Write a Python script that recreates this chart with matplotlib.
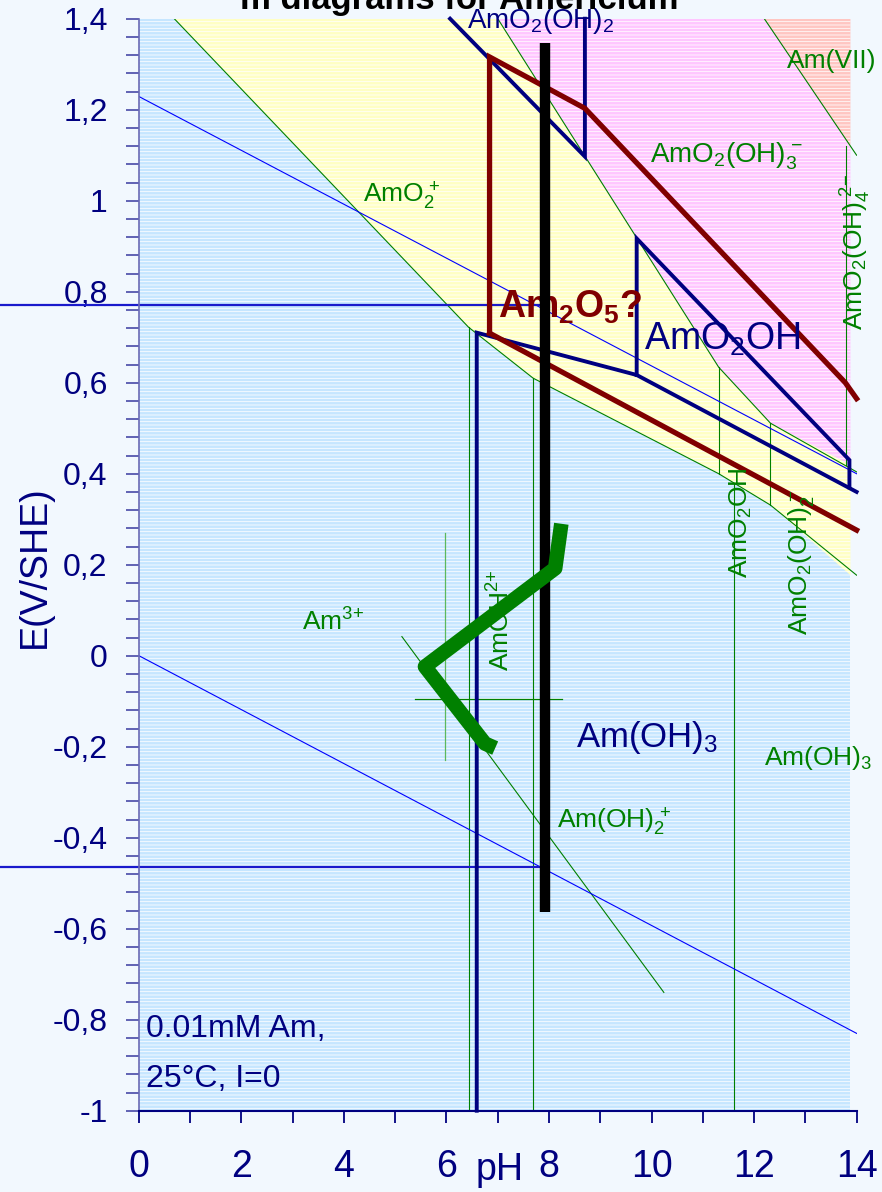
import numpy as np
import matplotlib
matplotlib.use("Agg")
from matplotlib import pyplot as plt

plt.rcParams["font.family"] = ["Liberation Sans", "DejaVu Sans"]
plt.rcParams["mathtext.fontset"] = "custom"
plt.rcParams["mathtext.rm"] = "Liberation Sans"
plt.rcParams["mathtext.it"] = "Liberation Sans:italic"
plt.rcParams["mathtext.bf"] = "Liberation Sans:bold"
plt.rcParams["hatch.linewidth"] = 0.55

# Region boundaries (pH, E in V/SHE).
am3_bound_ph = [0.69, 6.43, 7.69, 11.31, 12.32, 13.88]
am3_bound_e = [1.40, 0.722, 0.61, 0.40, 0.331, 0.177]
amo2_bound_ph = [7.0, 11.31, 12.32, 13.88]
amo2_bound_e = [1.40, 0.634, 0.511, 0.42]
am7_bound_ph = [12.2, 13.88]
am7_bound_e = [1.40, 1.12]

# Thin green boundary lines.
green_lines = [
    ([0.69, 6.43, 7.69, 11.31, 12.32, 14.0], [1.40, 0.722, 0.61, 0.40, 0.331, 0.177]),
    ([7.0, 11.31, 12.32, 14.0], [1.40, 0.634, 0.511, 0.404]),
    ([12.2, 14.0], [1.40, 1.10]),
    ([6.43, 6.43], [0.722, -1.0]),
    ([7.69, 7.69], [0.61, -1.0]),
    ([11.31, 11.31], [0.634, 0.40]),
    ([11.60, 11.60], [0.38, -1.0]),
    ([12.32, 12.32], [0.511, 0.331]),
    ([13.80, 13.80], [1.12, 0.42]),
    ([5.13, 10.24], [0.042, -0.74]),
]
cross_v_ph, cross_v_e = [5.97, 5.97], [0.27, -0.23]
cross_h_ph, cross_h_e = [5.39, 8.25], [-0.096, -0.096]

# Water stability lines.
water_ph = [0, 14]
o2_e = [1.229, 0.40]
h2_e = [0.0, -0.83]

# Thick navy / maroon phase boundaries.
navy_lines = [
    ([6.07, 8.70, 8.70], [1.40, 1.097, 1.40]),
    ([6.59, 6.59, 9.71, 14.0], [-1.0, 0.71, 0.617, 0.36]),
    ([9.71, 9.71, 13.86, 13.86], [0.617, 0.917, 0.43, 0.37]),
]
maroon_lines = [
    ([6.84, 6.84, 8.70, 13.78, 14.0], [0.709, 1.316, 1.203, 0.60, 0.565]),
    ([6.84, 14.0], [0.709, 0.276]),
]
black_ph, black_e = [7.92, 7.92], [-0.563, 1.346]
curve_ph = [8.24, 8.12, 5.58, 6.75, 6.95]
curve_e = [0.29, 0.192, -0.024, -0.193, -0.203]
hline_e = [0.77, -0.464]

yticks = [1.4, 1.2, 1.0, 0.8, 0.6, 0.4, 0.2, 0.0, -0.2, -0.4, -0.6, -0.8, -1.0]
ytick_labels = ["1,4", "1,2", "1", "0,8", "0,6", "0,4", "0,2", "0",
                "-0,2", "-0,4", "-0,6", "-0,8", "-1"]
xticks = [0, 2, 4, 6, 8, 10, 12, 14]
xtick_labels = ["0", "2", "4", "6", "8", "10", "12", "14"]

NAVY = "#000080"
MAROON = "#800000"
GREEN = "#008000"

fig = plt.figure(figsize=(8.82, 11.92), dpi=100)
fig.patch.set_facecolor("#f2f8fe")
ax = fig.add_axes([0.1575, 0.0682, 0.8137, 0.9161])
ax.set_facecolor("none")
ax.set_xlim(0, 14)
ax.set_ylim(-1, 1.4)

hatch = "-----"
# Base Am(III) region.
ax.fill([0, 13.88, 13.88, 0], [-1, -1, 1.4, 1.4], facecolor="#c6e6ff",
        edgecolor="white", lw=0, hatch=hatch, zorder=0)
# AmO2+ region.
ax.fill(am3_bound_ph + [13.88] + amo2_bound_ph[::-1],
        am3_bound_e + [0.42] + amo2_bound_e[::-1],
        facecolor="#ffffc4", edgecolor="white", lw=0, hatch=hatch, zorder=0.5)
# AmO2(OH)2 / AmO2(OH)3- region.
ax.fill(amo2_bound_ph + [13.88] + am7_bound_ph[::-1],
        amo2_bound_e + [1.12] + am7_bound_e[::-1],
        facecolor="#ffc6ff", edgecolor="white", lw=0, hatch=hatch, zorder=0.5)
# Am(VII) region.
ax.fill(am7_bound_ph + [13.88], am7_bound_e + [1.40],
        facecolor="#ffc6c2", edgecolor="white", lw=0, hatch=hatch, zorder=0.5)

for ph, e in green_lines:
    ax.plot(ph, e, color=GREEN, lw=0.8, zorder=2)
ax.plot(cross_v_ph, cross_v_e, color="#5cb85c", lw=0.9, zorder=2)
ax.plot(cross_h_ph, cross_h_e, color=GREEN, lw=0.9, zorder=2)

ax.plot(water_ph, o2_e, color="#0000ff", lw=0.8, zorder=2)
ax.plot(water_ph, h2_e, color="#0000ff", lw=0.8, zorder=2)

for ph, e in navy_lines:
    ax.plot(ph, e, color=NAVY, lw=2.8, zorder=3, clip_on=False,
            solid_joinstyle="miter")
for ph, e in maroon_lines:
    ax.plot(ph, e, color=MAROON, lw=3.8, zorder=3, clip_on=False,
            solid_joinstyle="miter")

# Horizontal guide lines starting at the left edge of the figure.
fig.canvas.draw()
x_left = ax.transData.inverted().transform(fig.transFigure.transform((0, 0)))[0]
for e in hline_e:
    ax.plot([x_left, black_ph[0]], [e, e], color="#1a1acc", lw=1.6,
            zorder=2.5, clip_on=False)

# Labels.
txt = dict(zorder=3.5, va="baseline", ha="left")
ax.text(6.40, 1.380, r"$\mathregular{AmO_2(OH)_2}$", color=NAVY, fontsize=20, **txt)
ax.text(12.64, 1.292, "Am(VII)", color=GREEN, fontsize=19, **txt)
ax.text(9.97, 1.085, r"$\mathregular{AmO_2(OH)_3^{\ {-}}}$", color=GREEN, fontsize=20, **txt)
ax.text(4.37, 0.995, r"$\mathregular{AmO_2^{\ {+}}}$", color=GREEN, fontsize=19, **txt)
ax.text(7.0, 0.742, r"$\mathregular{Am_2O_5?}$", color=MAROON, fontsize=27,
        fontweight="bold", **txt)
ax.text(9.86, 0.672, r"$\mathregular{AmO_2OH}$", color=NAVY, fontsize=27, **txt)
ax.text(3.18, 0.056, r"$\mathregular{Am^{3{+}}}$", color=GREEN, fontsize=19, **txt)
ax.text(8.53, -0.201, r"$\mathregular{Am(OH)_3}$", color=NAVY, fontsize=25, **txt)
ax.text(12.2, -0.240, r"$\mathregular{Am(OH)_3}$", color=GREEN, fontsize=19, **txt)
ax.text(8.16, -0.379, r"$\mathregular{Am(OH)_2^{\ {+}}}$", color=GREEN, fontsize=19, **txt)
ax.text(0.14, -0.838, "0.01mM Am,", color=NAVY, fontsize=23, **txt)
ax.text(0.14, -0.948, "25°C, I=0", color=NAVY, fontsize=23, **txt)

rot = dict(rotation=90, ha="center", va="center", color=GREEN, fontsize=19, zorder=3.5)
ax.text(7.07, 0.078, r"$\mathregular{AmOH^{2{+}}}$", **rot)
ax.text(11.75, 0.293, r"$\mathregular{AmO_2OH}$", **rot)
ax.text(12.92, 0.205, r"$\mathregular{AmO_2(OH)_2^{\ {-}}}$", **rot)
ax.text(13.98, 0.887, r"$\mathregular{AmO_2(OH)_4^{\ 2{-}}}$", clip_on=False, **rot)

ax.plot(black_ph, black_e, color="black", lw=7.5, zorder=4, solid_capstyle="butt")
ax.plot(curve_ph, curve_e, color=GREEN, lw=10.5, zorder=5,
        solid_capstyle="butt", solid_joinstyle="round")

# Axes styling.
for side in ["top", "right"]:
    ax.spines[side].set_visible(False)
ax.spines["left"].set_color("#6a6ab4")
ax.spines["left"].set_linewidth(1.2)
ax.spines["bottom"].set_color(NAVY)
ax.spines["bottom"].set_linewidth(1.5)
ax.spines["left"].set_zorder(6)
ax.spines["bottom"].set_zorder(6)

ax.set_yticks(yticks)
ax.set_yticklabels(ytick_labels)
ax.set_xticks(xticks)
ax.set_xticklabels(xtick_labels)
ax.minorticks_on()
ax.set_yticks(np.arange(-1.0, 1.401, 0.04), minor=True)
ax.set_xticks([1, 3, 5, 7, 9, 11, 13], minor=True)
ax.tick_params(axis="y", which="both", length=9.5, width=1.1, color="#3a3aa0",
               labelcolor=NAVY, labelsize=23, pad=13)
ax.tick_params(axis="x", which="both", length=8.6, width=1.3, color=NAVY,
               labelcolor=NAVY, labelsize=27, pad=19)

ax.annotate("pH", xy=(7.04, 0), xycoords=("data", "axes fraction"),
            xytext=(0, -42.5), textcoords="offset points", ha="center",
            va="center", color=NAVY, fontsize=27)
ax.set_ylabel("E(V/SHE)", color=NAVY, fontsize=27)
ax.yaxis.set_label_coords(-0.12, 0.498)

fig.text(0.272, 1 - 9 / 1192, "m diagrams for Americium", fontsize=25,
         fontweight="bold", color="black", ha="left", va="baseline")

fig.savefig("out.png", dpi=100, facecolor=fig.get_facecolor())
